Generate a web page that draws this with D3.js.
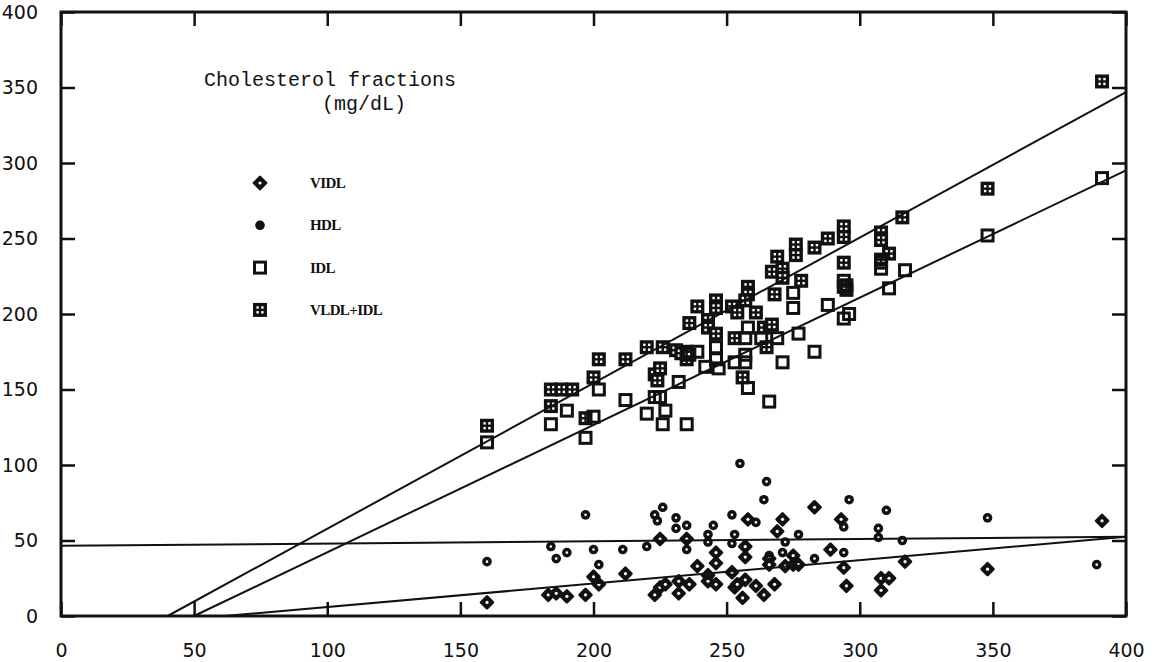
<!DOCTYPE html>
<html>
<head>
<meta charset="utf-8">
<script src="https://cdn.jsdelivr.net/npm/d3@7"></script>
<style>
	body { margin: 0; background: #fff; }
	svg { display: block; }
	.tick-label { font-family: 'DejaVu Sans', sans-serif; font-size: 19px; fill: #111; }
	.title { font-family: 'Liberation Mono', monospace; font-size: 20px; fill: #111; }
	.legend-label { font-family: 'Liberation Serif', serif; font-size: 15px; font-weight: bold; fill: #111; letter-spacing: -0.6px; }
</style>
</head>
<body>
<div id="chart"></div>
<script>
// data: [total cholesterol, fraction] in mg/dL
const vldlIdl = [
	[160,126],[184,139],[184,150],[188,150],[192,150],[197,131],[200,158],[202,170],[212,170],
	[220,178],[226,178],[223,160],[225,164],[224,156],[231,176],[233,174],[235,170],[235,175],
	[236,194],[239,205],[243,196],[243,191],[246,209],[246,204],[246,187],[252,205],[254,201],
	[258,218],[258,213],[257,209],[261,201],[253,184],[256,158],[264,191],[267,193],[265,178],
	[269,238],[267,228],[271,230],[271,224],[276,246],[276,239],[268,213],[278,222],[283,244],
	[288,250],[294,258],[294,251],[294,234],[295,219],[295,216],[308,254],[308,249],[311,240],
	[308,236],[316,264],[348,283],[391,354]
];
const idl = [
	[160,115],[184,127],[190,136],[197,118],[200,132],[202,150],[212,143],[220,134],[223,145],
	[225,145],[227,136],[226,127],[235,127],[232,155],[236,173],[239,175],[242,165],[247,164],
	[246,170],[246,178],[253,168],[257,173],[257,168],[257,184],[258,151],[258,191],[263,184],
	[266,142],[269,184],[271,168],[275,214],[275,204],[277,187],[283,175],[288,206],[294,222],
	[294,218],[294,197],[296,200],[308,234],[308,230],[311,217],[317,229],[348,252],[391,290]
];
const vldl = [
	[160,9],[183,14],[186,15],[190,13],[197,14],[200,26],[202,21],[212,28],[223,14],[225,19],
	[227,21],[232,23],[232,15],[236,21],[225,51],[235,51],[246,42],[239,33],[243,27],[243,23],
	[246,21],[252,29],[253,19],[246,35],[254,21],[256,12],[257,24],[261,20],[264,14],[268,21],
	[266,38],[266,34],[272,33],[275,40],[275,34],[277,34],[257,46],[257,39],[258,64],[269,56],
	[271,64],[283,72],[293,64],[289,44],[294,32],[295,20],[308,25],[311,25],[308,17],[317,36],
	[348,31],[391,63]
];
const hdl = [
	[160,36],[184,46],[186,38],[190,42],[197,67],[200,44],[202,34],[211,44],[220,46],[223,67],
	[224,63],[226,72],[231,65],[231,58],[235,60],[235,44],[245,60],[243,54],[243,49],[252,67],
	[253,54],[252,48],[255,101],[258,64],[261,62],[264,77],[265,89],[266,40],[269,56],[271,42],
	[272,49],[271,64],[277,54],[283,38],[294,59],[294,42],[296,77],[307,58],[307,52],[310,70],
	[316,50],[348,65],[389,34]
];

// fitted lines [slope, intercept]
const fitNames = ['vldlIdl', 'idl', 'hdl', 'vldl'];
const fitSlopes = [0.964, 0.843, 0.015, 0.155];
const fitIntercepts = [-38.6, -42.1, 46.5, -9.5];

const xTicks = [0, 50, 100, 150, 200, 250, 300, 350, 400];
const yTicks = [0, 50, 100, 150, 200, 250, 300, 350, 400];

const legendNames = ['VIDL', 'HDL', 'IDL', 'VLDL+IDL'];
const legendKinds = ['diamond', 'dot', 'square', 'grid'];

const titleLines = ['Cholesterol fractions', '(mg/dL)'];

// THE GOOD STUFF
const width = 1158, height = 662;
const margin = { top: 12, right: 1158 - 1126, bottom: 662 - 616, left: 61 };
const tickLen = 14;

const x = d3.scaleLinear().domain([0, 400]).range([margin.left, width - margin.right]);
const y = d3.scaleLinear().domain([0, 400]).range([height - margin.bottom, margin.top]);

const svg = d3.select('#chart')
	.append('svg')
	.attr('width', width)
	.attr('height', height);

// markers
const drawGrid = (g, cx, cy) => {
	g.append('rect')
		.attr('x', cx - 7).attr('y', cy - 7)
		.attr('width', 14).attr('height', 14)
		.attr('fill', '#111');
	[[-1, -1], [1, -1], [-1, 1], [1, 1]].forEach(([dx, dy]) => {
		g.append('rect')
			.attr('x', cx + dx * 2.4 - 1.2).attr('y', cy + dy * 2.4 - 1.2)
			.attr('width', 2.4).attr('height', 2.4)
			.attr('fill', '#fff');
	});
};

const drawSquare = (g, cx, cy) => {
	g.append('rect')
		.attr('x', cx - 5.5).attr('y', cy - 5.5)
		.attr('width', 11).attr('height', 11)
		.attr('fill', 'none')
		.attr('stroke', '#111')
		.attr('stroke-width', 3);
};

const drawDiamond = (g, cx, cy) => {
	const r = 6;
	g.append('path')
		.attr('d', `M${cx},${cy - r}L${cx + r},${cy}L${cx},${cy + r}L${cx - r},${cy}Z`)
		.attr('fill', '#111')
		.attr('stroke', '#111')
		.attr('stroke-width', 2.6)
		.attr('stroke-linejoin', 'round');
	g.append('circle')
		.attr('cx', cx).attr('cy', cy).attr('r', 1.6)
		.attr('fill', '#fff');
};

const drawDot = (g, cx, cy, hole) => {
	g.append('circle')
		.attr('cx', cx).attr('cy', cy).attr('r', 4.8)
		.attr('fill', '#111');
	if (hole) {
		g.append('circle')
			.attr('cx', cx).attr('cy', cy).attr('r', 1.3)
			.attr('fill', '#fff');
	}
};

const drawers = {
	grid: drawGrid,
	square: drawSquare,
	diamond: drawDiamond,
	dot: drawDot
};

// points
const points = svg.append('g').attr('class', 'points');
const series = [
	{ data: vldlIdl, kind: 'grid' },
	{ data: idl, kind: 'square' },
	{ data: hdl, kind: 'dot' },
	{ data: vldl, kind: 'diamond' }
];
series.forEach(s => {
	const g = points.append('g').attr('class', s.kind);
	s.data.forEach(d => drawers[s.kind](g, x(d[0]), y(d[1]), true));
});

// fitted lines, starting where they leave the x axis
const lines = svg.append('g').attr('class', 'fits');
fitNames.forEach((name, i) => {
	const m = fitSlopes[i], b = fitIntercepts[i];
	const x0 = Math.max(0, -b / m);
	const line = d3.line().x(d => x(d[0])).y(d => y(d[1]));
	lines.append('path')
		.attr('class', name)
		.datum([[x0, m * x0 + b], [400, m * 400 + b]])
		.attr('d', line)
		.attr('fill', 'none')
		.attr('stroke', '#111')
		.attr('stroke-width', 2);
});

// frame with inward ticks on all four sides
const xAxisBottom = g => g
	.attr('transform', `translate(0,${height - margin.bottom})`)
	.call(d3.axisBottom(x).tickValues(xTicks).tickSize(-tickLen).tickPadding(tickLen + 14).tickFormat(d3.format('d')))
	.call(g => g.selectAll('text').attr('class', 'tick-label'));

const xAxisTop = g => g
	.attr('transform', `translate(0,${margin.top})`)
	.call(d3.axisTop(x).tickValues(xTicks).tickSize(-tickLen).tickFormat(''));

const yAxisLeft = g => g
	.attr('transform', `translate(${margin.left},0)`)
	.call(d3.axisLeft(y).tickValues(yTicks).tickSize(-tickLen).tickPadding(tickLen + 9).tickFormat(d3.format('d')))
	.call(g => g.selectAll('text').attr('class', 'tick-label'));

const yAxisRight = g => g
	.attr('transform', `translate(${width - margin.right},0)`)
	.call(d3.axisRight(y).tickValues(yTicks).tickSize(-tickLen).tickFormat(''));

[xAxisBottom, xAxisTop, yAxisLeft, yAxisRight].forEach(fn => {
	svg.append('g')
		.call(fn)
		.call(g => g.selectAll('.domain').remove())
		.call(g => g.selectAll('line').attr('stroke', '#111').attr('stroke-width', 2.5));
});

svg.append('rect')
	.attr('x', margin.left)
	.attr('y', margin.top)
	.attr('width', width - margin.left - margin.right)
	.attr('height', height - margin.top - margin.bottom)
	.attr('fill', 'none')
	.attr('stroke', '#111')
	.attr('stroke-width', 3);

// title
svg.append('text')
	.attr('class', 'title')
	.attr('x', 204)
	.attr('y', 86)
	.text(titleLines[0]);
svg.append('text')
	.attr('class', 'title')
	.attr('x', 322)
	.attr('y', 110)
	.text(titleLines[1]);

// legend
const legend = svg.append('g').attr('class', 'legend');
legendNames.forEach((name, i) => {
	const ly = 183 + i * 42.3;
	drawers[legendKinds[i]](legend, 260, ly, false);
	legend.append('text')
		.attr('class', 'legend-label')
		.attr('x', 310)
		.attr('y', ly + 5)
		.text(name);
});
</script>
</body>
</html>
